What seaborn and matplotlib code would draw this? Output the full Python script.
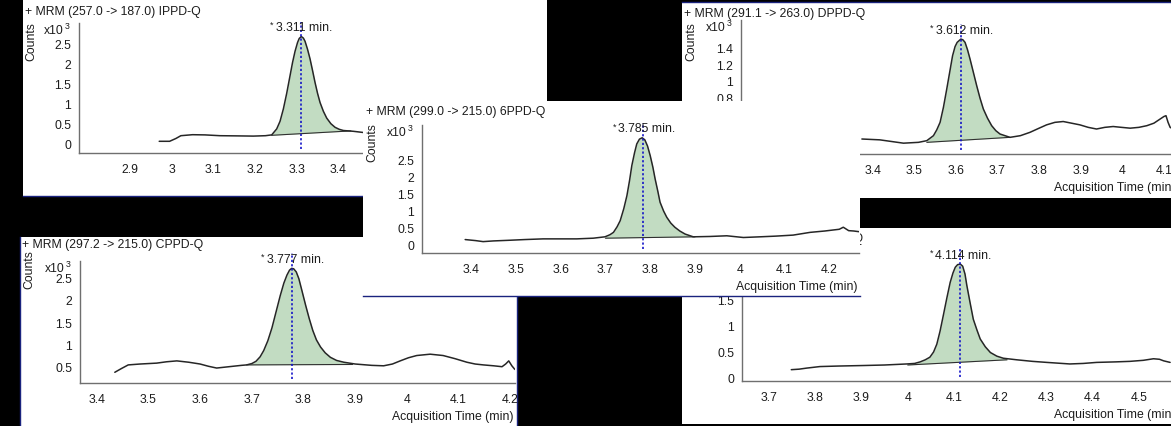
import numpy as np
import pandas as pd
import matplotlib
matplotlib.use("Agg")
import matplotlib.pyplot as plt
import matplotlib.transforms as mtransforms
import seaborn as sns

# ---------------- chromatogram traces (time in min, counts in 10^3) ----------------
ippd_time = [2.970, 2.995, 3.010, 3.022, 3.050, 3.080, 3.116, 3.160, 3.196, 3.225,
             3.240, 3.252, 3.260, 3.268, 3.276, 3.284, 3.290, 3.296, 3.302, 3.306,
             3.311, 3.316, 3.320, 3.326, 3.332, 3.338, 3.344, 3.350, 3.356, 3.364,
             3.372, 3.382, 3.392, 3.402, 3.412, 3.436, 3.460, 3.475]
ippd_counts = [0.05, 0.05, 0.12, 0.19, 0.215, 0.21, 0.19, 0.185, 0.18, 0.19,
               0.21, 0.36, 0.55, 0.86, 1.25, 1.69, 2.02, 2.30, 2.52, 2.62,
               2.67, 2.63, 2.55, 2.35, 2.11, 1.82, 1.52, 1.25, 1.02, 0.80,
               0.63, 0.49, 0.40, 0.35, 0.32, 0.30, 0.27, 0.26]
ippd_rt = 3.311
ippd_base_time = [3.240, 3.430]
ippd_base_counts = [0.20, 0.31]

ppd6_time = [3.387, 3.410, 3.427, 3.450, 3.487, 3.520, 3.561, 3.600, 3.636, 3.673,
             3.699, 3.710, 3.718, 3.726, 3.733, 3.741, 3.748, 3.754, 3.759, 3.765,
             3.770, 3.776, 3.782, 3.788, 3.794, 3.800, 3.806, 3.811, 3.817, 3.822,
             3.830, 3.837, 3.846, 3.855, 3.866, 3.878, 3.896, 3.933, 3.971, 4.008,
             4.045, 4.080, 4.119, 4.157, 4.190, 4.209, 4.222, 4.231, 4.237, 4.243,
             4.254, 4.266]
ppd6_counts = [0.15, 0.12, 0.09, 0.11, 0.13, 0.15, 0.17, 0.17, 0.17, 0.19,
               0.23, 0.29, 0.36, 0.52, 0.70, 1.05, 1.43, 1.88, 2.31, 2.68,
               2.94, 3.08, 3.12, 3.06, 2.88, 2.60, 2.26, 1.92, 1.56, 1.24,
               0.98, 0.80, 0.63, 0.51, 0.40, 0.31, 0.23, 0.24, 0.26, 0.21,
               0.23, 0.25, 0.28, 0.36, 0.40, 0.43, 0.45, 0.51, 0.46, 0.41,
               0.40, 0.38]
ppd6_rt = 3.785
ppd6_base_time = [3.700, 3.900]
ppd6_base_counts = [0.19, 0.23]

dppd_time = [3.374, 3.417, 3.474, 3.510, 3.530, 3.546, 3.554, 3.562, 3.570, 3.578,
             3.585, 3.592, 3.598, 3.603, 3.612, 3.617, 3.622, 3.628, 3.634, 3.642,
             3.650, 3.658, 3.666, 3.676, 3.686, 3.696, 3.706, 3.730, 3.755, 3.778,
             3.800, 3.818, 3.838, 3.858, 3.878, 3.898, 3.918, 3.938, 3.958, 3.978,
             3.998, 4.019, 4.040, 4.059, 4.076, 4.091, 4.100, 4.105, 4.110, 4.115,
             4.130]
dppd_counts = [0.30, 0.29, 0.25, 0.26, 0.28, 0.34, 0.41, 0.50, 0.68, 0.90,
               1.10, 1.30, 1.41, 1.46, 1.50, 1.49, 1.46, 1.37, 1.26, 1.10,
               0.94, 0.79, 0.66, 0.55, 0.46, 0.40, 0.36, 0.32, 0.34, 0.38,
               0.43, 0.47, 0.50, 0.51, 0.49, 0.47, 0.44, 0.42, 0.44, 0.45,
               0.44, 0.43, 0.44, 0.46, 0.49, 0.54, 0.57, 0.58, 0.50, 0.44,
               0.40]
dppd_rt = 3.612
dppd_base_time = [3.530, 3.730]
dppd_base_counts = [0.26, 0.32]

cppd_time = [3.435, 3.448, 3.461, 3.484, 3.516, 3.535, 3.555, 3.578, 3.600, 3.616,
             3.632, 3.648, 3.664, 3.680, 3.690, 3.700, 3.708, 3.716, 3.723, 3.731,
             3.739, 3.747, 3.755, 3.762, 3.768, 3.773, 3.777, 3.781, 3.786, 3.791,
             3.797, 3.804, 3.811, 3.818, 3.825, 3.833, 3.842, 3.852, 3.864, 3.878,
             3.900, 3.932, 3.955, 3.972, 3.987, 4.003, 4.019, 4.045, 4.070, 4.093,
             4.116, 4.132, 4.148, 4.168, 4.184, 4.191, 4.197, 4.203, 4.208, 4.213]
cppd_counts = [0.375, 0.46, 0.54, 0.56, 0.58, 0.61, 0.63, 0.60, 0.56, 0.51,
               0.47, 0.49, 0.51, 0.53, 0.54, 0.57, 0.62, 0.72, 0.86, 1.08,
               1.37, 1.73, 2.09, 2.37, 2.55, 2.66, 2.70, 2.69, 2.62, 2.47,
               2.20, 1.88, 1.58, 1.31, 1.10, 0.94, 0.81, 0.71, 0.64, 0.60,
               0.56, 0.53, 0.52, 0.56, 0.63, 0.70, 0.75, 0.78, 0.75, 0.68,
               0.60, 0.56, 0.54, 0.52, 0.50, 0.56, 0.63, 0.52, 0.45, 0.41]
cppd_rt = 3.777
cppd_base_time = [3.690, 3.895]
cppd_base_counts = [0.54, 0.55]

pd77_time = [3.748, 3.765, 3.781, 3.810, 3.850, 3.904, 3.950, 3.998, 4.015, 4.027,
             4.038, 4.048, 4.056, 4.063, 4.070, 4.077, 4.085, 4.092, 4.098, 4.103,
             4.108, 4.114, 4.119, 4.124, 4.128, 4.135, 4.142, 4.150, 4.157, 4.168,
             4.179, 4.193, 4.207, 4.236, 4.270, 4.301, 4.351, 4.380, 4.409, 4.450,
             4.481, 4.510, 4.532, 4.545, 4.554, 4.568]
pd77_counts = [0.16, 0.17, 0.19, 0.22, 0.23, 0.24, 0.25, 0.27, 0.28, 0.31,
               0.35, 0.40, 0.50, 0.65, 0.90, 1.20, 1.55, 1.84, 2.02, 2.13,
               2.18, 2.19, 2.15, 2.00, 1.78, 1.45, 1.13, 0.92, 0.75, 0.60,
               0.49, 0.42, 0.38, 0.35, 0.32, 0.30, 0.27, 0.28, 0.30, 0.31,
               0.32, 0.34, 0.37, 0.36, 0.33, 0.30]
pd77_rt = 4.114
pd77_base_time = [4.000, 4.215]
pd77_base_counts = [0.25, 0.35]

titles = ["+ MRM (257.0 -> 187.0) IPPD-Q",
          "+ MRM (299.0 -> 215.0) 6PPD-Q",
          "+ MRM (291.1 -> 263.0) DPPD-Q",
          "+ MRM (297.2 -> 215.0) CPPD-Q",
          "77PD-Q"]
x_tick_values = [
    [2.8, 2.9, 3.0, 3.1, 3.2, 3.3, 3.4, 3.5, 3.6, 3.7, 3.8],
    [3.4, 3.5, 3.6, 3.7, 3.8, 3.9, 4.0, 4.1, 4.2],
    [3.1, 3.2, 3.3, 3.4, 3.5, 3.6, 3.7, 3.8, 3.9, 4.0, 4.1],
    [3.4, 3.5, 3.6, 3.7, 3.8, 3.9, 4.0, 4.1, 4.2],
    [3.7, 3.8, 3.9, 4.0, 4.1, 4.2, 4.3, 4.4, 4.5],
]
x_tick_hidden = [[2.8], [], [], [], []]
y_tick_values = [
    [0, 0.5, 1, 1.5, 2, 2.5],
    [0, 0.5, 1, 1.5, 2, 2.5],
    [0.2, 0.4, 0.6, 0.8, 1, 1.2, 1.4],
    [0.5, 1, 1.5, 2, 2.5],
    [0, 0.5, 1, 1.5, 2],
]
x_label = "Acquisition Time (min)"
y_label = "Counts"

# ---------------- window layout (pixels from the top-left corner) ----------------
W, H = 1171, 427
layout = [
    dict(frame=(22.7, -3, 547, 197), plot=(79, 24.3, 540, 154),
         xref=(3.0, 171.7, 416.7), yref=(0.0, 144.3, 40.0), title_y=11.5,
         counts_top=22, sides=("bottom",), axis_labels=(True, False)),
    dict(frame=(363, 102, 860, 297), plot=(422, 126, 859, 254),
         xref=(3.4, 471.0, 448.0), yref=(0.0, 245.7, 34.27), title_y=111.7,
         counts_top=123, sides=("bottom",), axis_labels=(True, True)),
    dict(frame=(682, 2.5, 1190, 199), plot=(741, 20.7, 1177, 155),
         xref=(3.4, 872.7, 416.0), yref=(0.0, 165.0, 83.3), title_y=13.8,
         counts_top=22, sides=("top",), axis_labels=(True, True)),
    dict(frame=(20, 237.5, 517, 440), plot=(80, 261.7, 515, 384),
         xref=(3.4, 96.7, 517.0), yref=(0.0, 390.05, 44.7), title_y=245.0,
         counts_top=250, sides=("left", "right"), axis_labels=(True, True)),
    dict(frame=(682, 229, 1190, 425), plot=(742, 252, 1177, 382),
         xref=(4.0, 907.7, 462.0), yref=(0.0, 379.0, 52.0), title_y=239.5,
         counts_top=None, sides=(), axis_labels=(False, True)),
]

traces = [
    (ippd_time, ippd_counts, ippd_rt, ippd_base_time, ippd_base_counts),
    (ppd6_time, ppd6_counts, ppd6_rt, ppd6_base_time, ppd6_base_counts),
    (dppd_time, dppd_counts, dppd_rt, dppd_base_time, dppd_base_counts),
    (cppd_time, cppd_counts, cppd_rt, cppd_base_time, cppd_base_counts),
    (pd77_time, pd77_counts, pd77_rt, pd77_base_time, pd77_base_counts),
]

sns.set_theme(style="white")
plt.rcParams["font.family"] = ["Liberation Sans Narrow", "Liberation Sans", "DejaVu Sans"]

FS = 8.8
AXIS_GREY = "#6f6f6f"
TEXT_COL = "#1c1c1c"
FRAME_COL = "#1a237e"
PEAK_FILL = "#c2dcc2"
TRACE_COL = "#262626"
RT_COL = "#1515c8"

fig = plt.figure(figsize=(W / 100, H / 100), dpi=100, facecolor="black")


def rect(x0, y0, x1, y1):
    return [x0 / W, 1 - y1 / H, (x1 - x0) / W, (y1 - y0) / H]


def fx(px):
    return px / W


def fy(py):
    return 1 - py / H


def draw_panel(i):
    lay = layout[i]
    t, v, rt, bt, bv = traces[i]
    x0, y0, x1, y1 = lay["frame"]
    left, top, right, bottom = lay["plot"]
    tref, pxref, sx = lay["xref"]
    vref, pyref, sy = lay["yref"]
    show_ylab, show_xlab = lay["axis_labels"]

    # white window behind the plot
    bg = fig.add_axes(rect(x0, y0, x1, y1))
    bg.set_facecolor("white")
    bg.set_xticks([])
    bg.set_yticks([])
    for name, sp in bg.spines.items():
        sp.set_visible(name in lay["sides"])
        sp.set_color(FRAME_COL)
        sp.set_linewidth(1.0)

    tr = fig.transFigure
    if i == 4:
        bg.text(fx(864), fy(lay["title_y"]), titles[i], transform=tr,
                fontsize=FS, color=TEXT_COL, ha="right", va="center")
    else:
        bg.text(fx(x0 + 2.5), fy(lay["title_y"]), titles[i], transform=tr,
                fontsize=FS, color=TEXT_COL, ha="left", va="center")
    if show_ylab:
        bg.text(fx(x0 + 9), fy(lay["counts_top"]), y_label, transform=tr, rotation=90,
                fontsize=FS, color=TEXT_COL, ha="center", va="top")
        bg.text(fx(left - 15), fy(top + 7), "x10", transform=tr,
                fontsize=FS, color=TEXT_COL, ha="right", va="center")
        bg.text(fx(left - 14), fy(top + 2.5), "3", transform=tr,
                fontsize=FS * 0.72, color=TEXT_COL, ha="left", va="center")
    if show_xlab:
        bg.text(fx(right - 2), fy(bottom + 33.5), x_label, transform=tr,
                fontsize=FS, color=TEXT_COL, ha="right", va="center")

    # plot area
    ax = fig.add_axes(rect(left, top, right, bottom))
    ax.set_facecolor("none")
    xlim = (tref + (left - pxref) / sx, tref + (right - pxref) / sx)
    ylim = (vref + (pyref - bottom) / sy, vref + (pyref - top) / sy)

    df = pd.DataFrame({"time": t, "counts": v})
    fill_mask = (df["time"] >= bt[0]) & (df["time"] <= bt[1])
    ft = np.concatenate([[bt[0]], df.loc[fill_mask, "time"].to_numpy(), [bt[1]]])
    fv = np.interp(ft, df["time"], df["counts"])
    base = np.interp(ft, bt, bv)
    ax.fill_between(ft, base, fv, color=PEAK_FILL, linewidth=0, zorder=1)
    ax.plot(bt, bv, color="#303030", linewidth=0.8, zorder=2)
    sns.lineplot(data=df, x="time", y="counts", ax=ax, color=TRACE_COL,
                 linewidth=1.1, sort=False, estimator=None, zorder=3)

    apex = float(df["counts"].max())
    label_off = mtransforms.offset_copy(ax.transData, fig=fig, x=-25, y=9.5, units="dots")
    star_off = mtransforms.offset_copy(ax.transData, fig=fig, x=-31, y=12, units="dots")
    ax.text(rt, apex, f"{rt:.3f} min.", transform=label_off, fontsize=FS,
            color=TEXT_COL, ha="left", va="center", zorder=5)
    ax.text(rt, apex, "*", transform=star_off, fontsize=FS * 0.75,
            color=TEXT_COL, ha="left", va="center", zorder=5)

    top_line = apex + 15 / sy
    ax.plot([rt, rt], [ylim[0] + 4 / sy, top_line], color=RT_COL, linewidth=1.2,
            linestyle=(0, (1.3, 1.3)), zorder=4, clip_on=False)

    ax.set_xlim(*xlim)
    ax.set_ylim(*ylim)
    xt = x_tick_values[i]
    ax.set_xticks(xt)
    ax.set_xticklabels(["" if x in x_tick_hidden[i] else f"{round(x, 1):g}" for x in xt])
    yt = list(y_tick_values[i]) + [ylim[1]]
    ax.set_yticks(yt)
    ax.set_yticklabels([f"{round(y, 1):g}" for y in y_tick_values[i]] + [""])
    ax.set_xlabel("")
    ax.set_ylabel("")
    ax.tick_params(axis="x", direction="out", length=5, width=1, color=AXIS_GREY,
                   labelsize=FS, labelcolor=TEXT_COL, pad=2)
    ax.tick_params(axis="y", direction="out", length=4, width=1, color=AXIS_GREY,
                   labelsize=FS, labelcolor=TEXT_COL, pad=1.5)
    for name, sp in ax.spines.items():
        if name in ("left", "bottom"):
            sp.set_visible(True)
            sp.set_color(AXIS_GREY)
            sp.set_linewidth(1.0)
        else:
            sp.set_visible(False)
    ax.grid(False)


# windows are stacked so that the 6PPD-Q window sits on top of the others
for idx in [0, 2, 3, 4, 1]:
    draw_panel(idx)

fig.savefig("out.png", dpi=100, facecolor="black")
